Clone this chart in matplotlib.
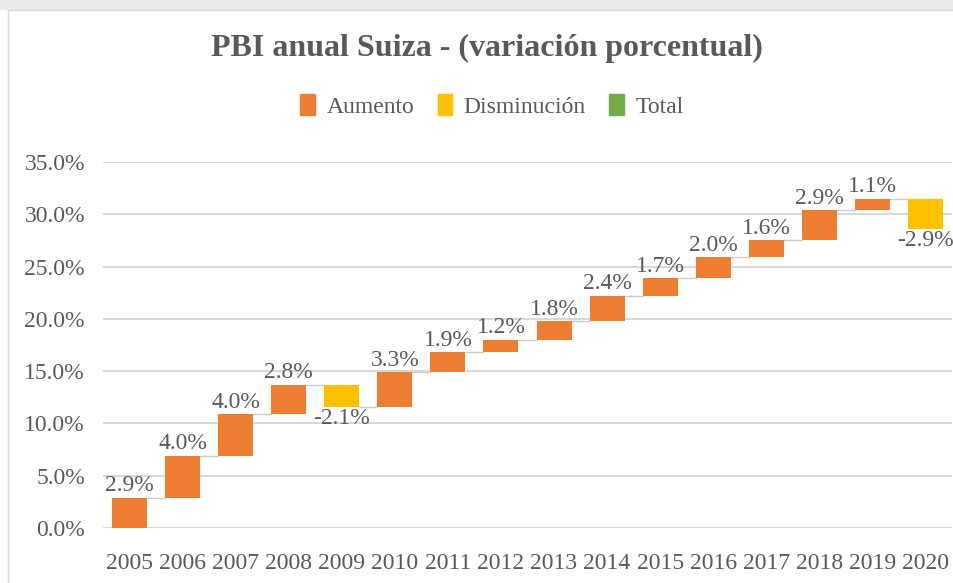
import numpy as np
import matplotlib
matplotlib.use("Agg")
import matplotlib.pyplot as plt
from matplotlib.patches import Patch, Rectangle

# data
years = ['2005', '2006', '2007', '2008', '2009', '2010', '2011', '2012',
         '2013', '2014', '2015', '2016', '2017', '2018', '2019', '2020']
changes = [2.9, 4.0, 4.0, 2.8, -2.1, 3.3, 1.9, 1.2, 1.8, 2.4, 1.7, 2.0, 1.6, 2.9, 1.1, -2.9]
y_ticks = [0, 5, 10, 15, 20, 25, 30, 35]

c_up = '#ED7D31'
c_down = '#FFC000'
c_total = '#70AD47'
c_text = '#595959'

plt.rcParams['font.family'] = ['Liberation Serif', 'DejaVu Serif']

fig = plt.figure(figsize=(9.54, 5.83), dpi=100)
# faint strip at the top and chart border
fig.patches.append(Rectangle((0, 1 - 10/583), 1, 10/583, transform=fig.transFigure,
                             facecolor='#ecece6', edgecolor='none', zorder=-2))
fig.patches.append(Rectangle((8/954, -0.1), 1.2, 1 - 10/583 + 0.1, transform=fig.transFigure,
                             facecolor='white', edgecolor='#d9d9d9', lw=1, zorder=-1))

ax = fig.add_axes([103/954, 1 - 528/583, (952 - 103)/954, (528 - 162)/583])
ax.set_facecolor('none')
ax.set_zorder(1)

vals = np.array(changes)
ends = np.cumsum(vals)
starts = ends - vals
x = np.arange(len(years))
colors = [c_up if v >= 0 else c_down for v in vals]
w = 0.66
ax.bar(x, vals, bottom=starts, width=w, color=colors, zorder=3)

# connectors
for i in range(len(x) - 1):
    ax.plot([x[i] + w/2, x[i + 1] - w/2], [ends[i], ends[i]], color='#cccccc', lw=1, zorder=2)

# data labels
for i, v in enumerate(vals):
    if v >= 0:
        ax.annotate(f'{v:.1f}%', (x[i], ends[i]), xytext=(0, 1), textcoords='offset points',
                    ha='center', va='bottom', fontsize=17, color=c_text)
    else:
        ax.annotate(f'{v:.1f}%', (x[i], ends[i]), xytext=(0, -1), textcoords='offset points',
                    ha='center', va='top', fontsize=17, color=c_text)

ax.set_xlim(-0.5, len(years) - 0.5)
ax.set_ylim(0, 35)
ax.set_yticks(y_ticks)
ax.set_yticklabels([f'{t:.1f}%' for t in y_ticks])
ax.set_xticks(x)
ax.set_xticklabels(years)
ax.tick_params(axis='both', length=0, labelsize=17, labelcolor=c_text)
ax.tick_params(axis='y', pad=13)
ax.tick_params(axis='x', pad=18)
ax.grid(axis='y', color='#d9d9d9', lw=1.5, zorder=0)
for s in ax.spines.values():
    s.set_visible(False)

fig.text(487/954, 1 - 48/583, 'PBI anual Suiza - (variación porcentual)', ha='center', va='center',
         fontsize=23, fontweight='bold', color=c_text)

handles = [Patch(color=c_up, label='Aumento'), Patch(color=c_down, label='Disminución'),
           Patch(color=c_total, label='Total')]
fig.legend(handles=handles, loc='center', bbox_to_anchor=(492/954, 1 - 106/583), ncol=3,
           frameon=False, fontsize=17, labelcolor=c_text, handlelength=0.6, handleheight=1.0,
           handletextpad=0.5, columnspacing=1.0)

fig.savefig('out.png', dpi=100)
